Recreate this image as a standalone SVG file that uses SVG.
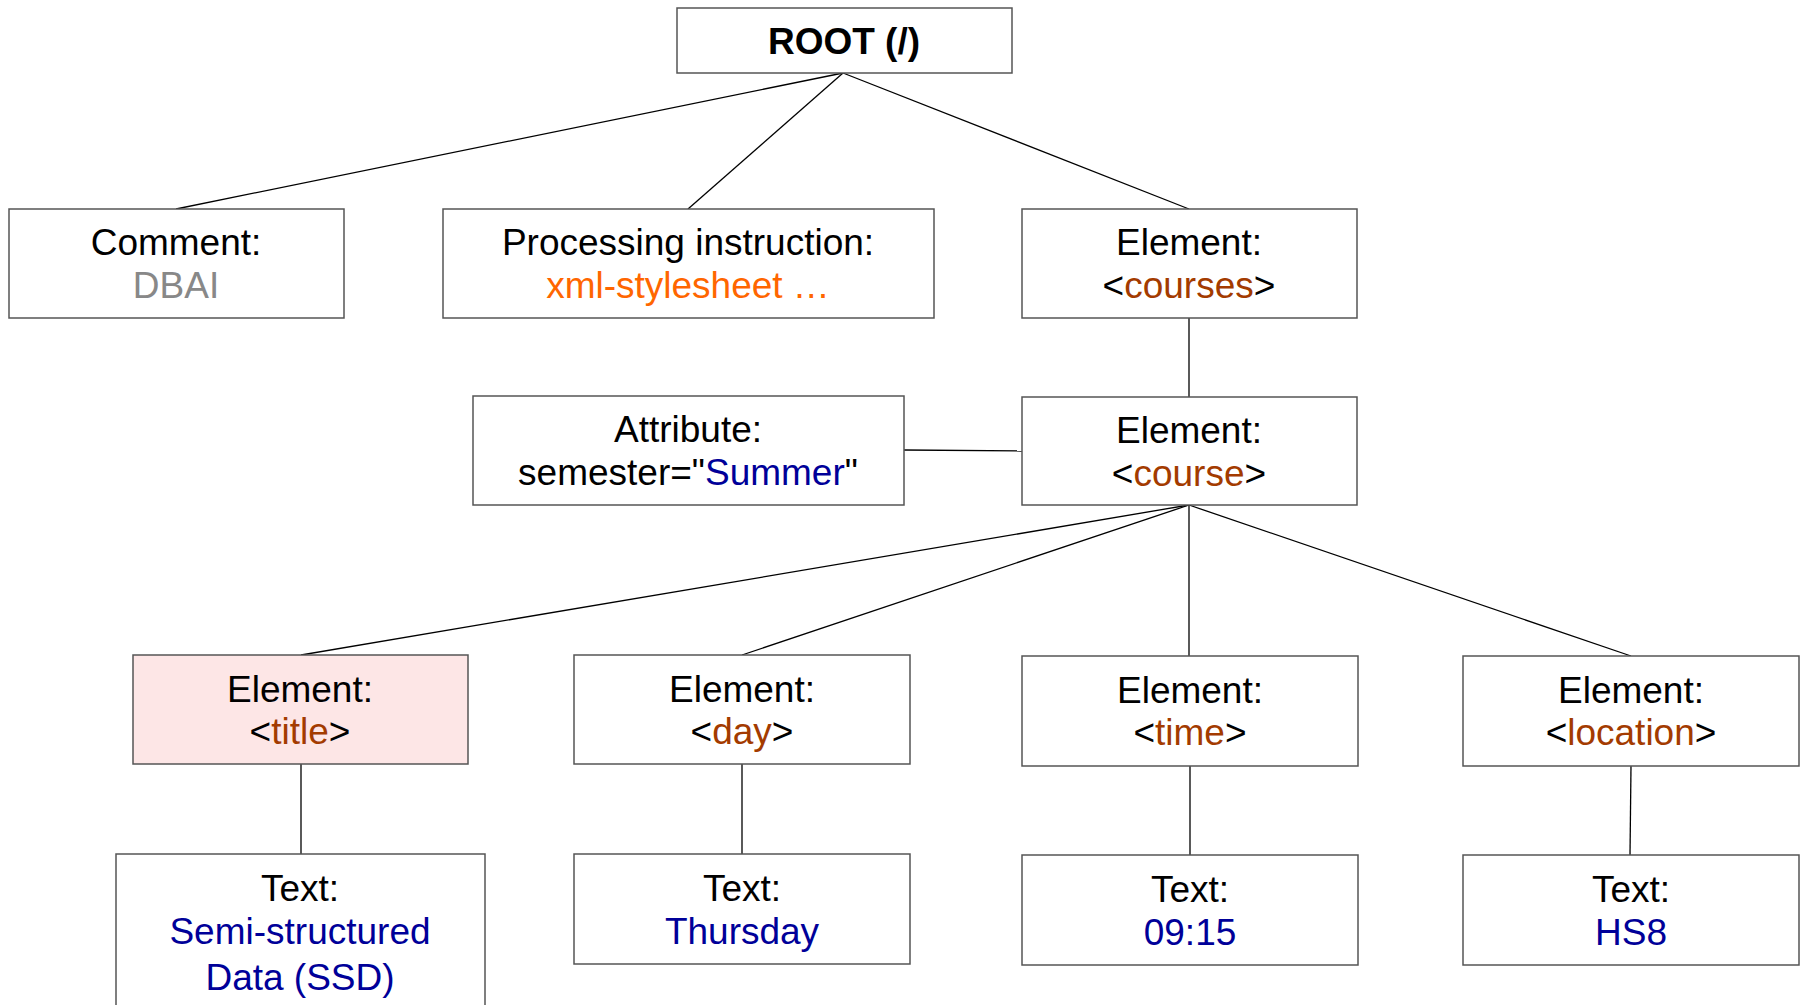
<svg xmlns="http://www.w3.org/2000/svg" width="1808" height="1005" viewBox="0 0 1808 1005">
<style>
.box{fill:#ffffff;stroke:#555555;stroke-width:1.5}
.hl{fill:#fde6e6}
text{font-family:"Liberation Sans",Arial,sans-serif;font-size:37px;fill:#000000;text-anchor:middle}
.root{font-weight:bold}
.gray{fill:#888888}
.orange{fill:#ff6600}
.el{fill:#a33b00}
.val{fill:#000099}
#connectors line{stroke:#000000;stroke-width:1.3}
</style>
<rect width="1808" height="1005" fill="#ffffff"/>
<g id="connectors">
<line x1="843" y1="73" x2="176" y2="209"/>
<line x1="843" y1="73" x2="688" y2="209"/>
<line x1="843" y1="73" x2="1189" y2="209"/>
<line x1="1189" y1="318" x2="1189" y2="397"/>
<line x1="904" y1="450" x2="1022" y2="451"/>
<line x1="1189" y1="505" x2="301" y2="655"/>
<line x1="1189" y1="505" x2="742" y2="655"/>
<line x1="1189" y1="505" x2="1189" y2="656"/>
<line x1="1189" y1="505" x2="1631" y2="656"/>
<line x1="301" y1="764" x2="301" y2="854"/>
<line x1="742" y1="764" x2="742" y2="854"/>
<line x1="1190" y1="766" x2="1190" y2="855"/>
<line x1="1631" y1="766" x2="1630" y2="855"/>
</g>
<g id="root">
<rect class="box" x="677" y="8" width="335" height="65"/>
<text class="root" x="844" y="54">ROOT (/)</text>
</g>
<g id="comment">
<rect class="box" x="9" y="209" width="335" height="109"/>
<text x="176" y="255">Comment:</text>
<text class="gray" x="176" y="298">DBAI</text>
</g>
<g id="pi">
<rect class="box" x="443" y="209" width="491" height="109"/>
<text x="688" y="255">Processing instruction:</text>
<text class="orange" x="688" y="298">xml-stylesheet …</text>
</g>
<g id="courses">
<rect class="box" x="1022" y="209" width="335" height="109"/>
<text x="1189" y="255">Element:</text>
<text x="1189" y="298">&lt;<tspan class="el">courses</tspan>&gt;</text>
</g>
<g id="attribute">
<rect class="box" x="473" y="396" width="431" height="109"/>
<text x="688" y="442">Attribute:</text>
<text x="688" y="485">semester="<tspan class="val">Summer</tspan>"</text>
</g>
<g id="course">
<rect class="box" x="1022" y="397" width="335" height="108"/>
<text x="1189" y="443">Element:</text>
<text x="1189" y="486">&lt;<tspan class="el">course</tspan>&gt;</text>
</g>
<g id="title">
<rect class="box hl" x="133" y="655" width="335" height="109"/>
<text x="300" y="702">Element:</text>
<text x="300" y="744">&lt;<tspan class="el">title</tspan>&gt;</text>
</g>
<g id="day">
<rect class="box" x="574" y="655" width="336" height="109"/>
<text x="742" y="702">Element:</text>
<text x="742" y="744">&lt;<tspan class="el">day</tspan>&gt;</text>
</g>
<g id="time">
<rect class="box" x="1022" y="656" width="336" height="110"/>
<text x="1190" y="703">Element:</text>
<text x="1190" y="745">&lt;<tspan class="el">time</tspan>&gt;</text>
</g>
<g id="location">
<rect class="box" x="1463" y="656" width="336" height="110"/>
<text x="1631" y="703">Element:</text>
<text x="1631" y="745">&lt;<tspan class="el">location</tspan>&gt;</text>
</g>
<g id="text-ssd">
<rect class="box" x="116" y="854" width="369" height="170"/>
<text x="300" y="901">Text:</text>
<text class="val" x="300" y="944">Semi-structured</text>
<text class="val" x="300" y="990">Data (SSD)</text>
</g>
<g id="text-thursday">
<rect class="box" x="574" y="854" width="336" height="110"/>
<text x="742" y="901">Text:</text>
<text class="val" x="742" y="944">Thursday</text>
</g>
<g id="text-time">
<rect class="box" x="1022" y="855" width="336" height="110"/>
<text x="1190" y="902">Text:</text>
<text class="val" x="1190" y="945">09:15</text>
</g>
<g id="text-hs8">
<rect class="box" x="1463" y="855" width="336" height="110"/>
<text x="1631" y="902">Text:</text>
<text class="val" x="1631" y="945">HS8</text>
</g>
</svg>
